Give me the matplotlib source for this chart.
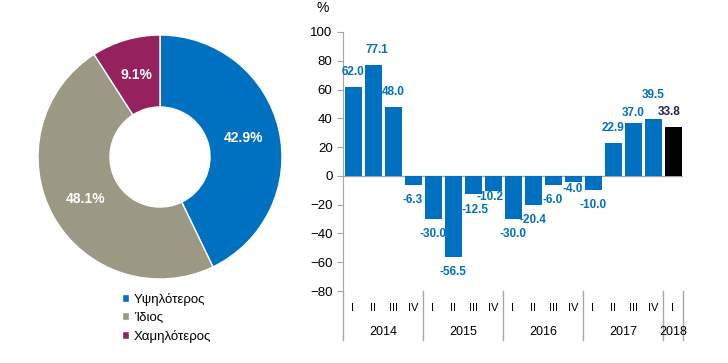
import matplotlib
matplotlib.use('Agg')
import matplotlib.pyplot as plt
import matplotlib.transforms as mtransforms

plt.rcParams['font.family'] = ['Liberation Sans', 'DejaVu Sans']

# Donut data
donut_labels = ['Υψηλότερος', 'Ίδιος', 'Χαμηλότερος']
donut_values = [42.9, 48.1, 9.1]
donut_colors = ['#0070C0', '#9B9883', '#95215F']

# Bar data
quarters = ['I', 'II', 'III', 'IV', 'I', 'II', 'III', 'IV', 'I', 'II', 'III', 'IV',
            'I', 'II', 'III', 'IV', 'I']
years = ['2014', '2015', '2016', '2017', '2018']
year_sizes = [4, 4, 4, 4, 1]
values = [62.0, 77.1, 48.0, -6.3, -30.0, -56.5, -12.5, -10.2, -30.0, -20.4, -6.0, -4.0,
          -10.0, 22.9, 37.0, 39.5, 33.8]

blue = '#0070C0'
bar_colors = [blue] * (len(values) - 1) + ['black']
label_colors = [blue] * (len(values) - 1) + ['#1F2350']

fig = plt.figure(figsize=(7.28, 3.63), dpi=100)

# Donut chart
ax1 = fig.add_axes([38 / 728, 1 - 279 / 363, 244 / 728, 244 / 363])
wedges, texts, autotexts = ax1.pie(
    donut_values, colors=donut_colors, startangle=90, counterclock=False,
    wedgeprops=dict(width=0.59, edgecolor='white', linewidth=1),
    autopct='%.1f%%', pctdistance=0.70,
    textprops=dict(color='white', fontsize=10, fontweight='bold'))
ax1.set_xlim(-1, 1)
ax1.set_ylim(-1, 1)
ax1.set_aspect('equal')

fig.legend(wedges, donut_labels, loc='upper left', bbox_to_anchor=(122 / 728, 1 - 293 / 363),
           frameon=False, fontsize=9.5, handlelength=0.55, handleheight=0.55,
           handletextpad=0.35, labelspacing=0.45, borderaxespad=0, borderpad=0)

# Bar chart
ax2 = fig.add_axes([343 / 728, 1 - 291 / 363, 340 / 728, 259 / 363])
x = list(range(len(values)))
bars = ax2.bar(x, values, width=0.85, color=bar_colors, zorder=3)
ax2.axhline(0, color='#A6A6A6', linewidth=1, zorder=2)
ax2.set_xlim(-0.5, len(values) - 0.5)
ax2.set_ylim(-80, 100)
ax2.set_yticks(range(-80, 101, 20))
ax2.tick_params(axis='y', colors='#A6A6A6', labelcolor='black', labelsize=9.5, length=4)
ax2.set_xticks([])
for s in ['top', 'right', 'bottom']:
    ax2.spines[s].set_visible(False)
ax2.spines['left'].set_color('#A6A6A6')

# label distance from bar end (px), Excel-like placement
gap = {6: 16, 7: 6, 11: 7, 14: 10, 15: 24}
shift = {1: 4, 6: 2, 7: -3, 16: -4}
for i, v in enumerate(values):
    d = gap.get(i, 15) * 0.72
    sgn = 1 if v >= 0 else -1
    ax2.annotate(f'{v:.1f}', (i, v), xytext=(shift.get(i, 0) * 0.72, sgn * d),
                 textcoords='offset points', ha='center', va='center',
                 fontsize=8.5, fontweight='bold', color=label_colors[i], zorder=4)

trans = mtransforms.blended_transform_factory(ax2.transData, ax2.transAxes)
for i, q in enumerate(quarters):
    ax2.text(i, -0.066, q, transform=trans, ha='center', va='center', fontsize=8)

start = 0
ax2.plot([-0.5, -0.5], [0, -0.19], transform=trans, color='#A6A6A6', lw=1, clip_on=False)
for y, n in zip(years, year_sizes):
    ax2.text(start + (n - 1) / 2, -0.16, y, transform=trans, ha='center', va='center', fontsize=9)
    start += n
    ax2.plot([start - 0.5, start - 0.5], [0, -0.19], transform=trans, color='#A6A6A6',
             lw=1, clip_on=False)

fig.text(323 / 728, 1 - 8 / 363, '%', ha='center', va='center', fontsize=10)

fig.savefig('out.png', dpi=100)
